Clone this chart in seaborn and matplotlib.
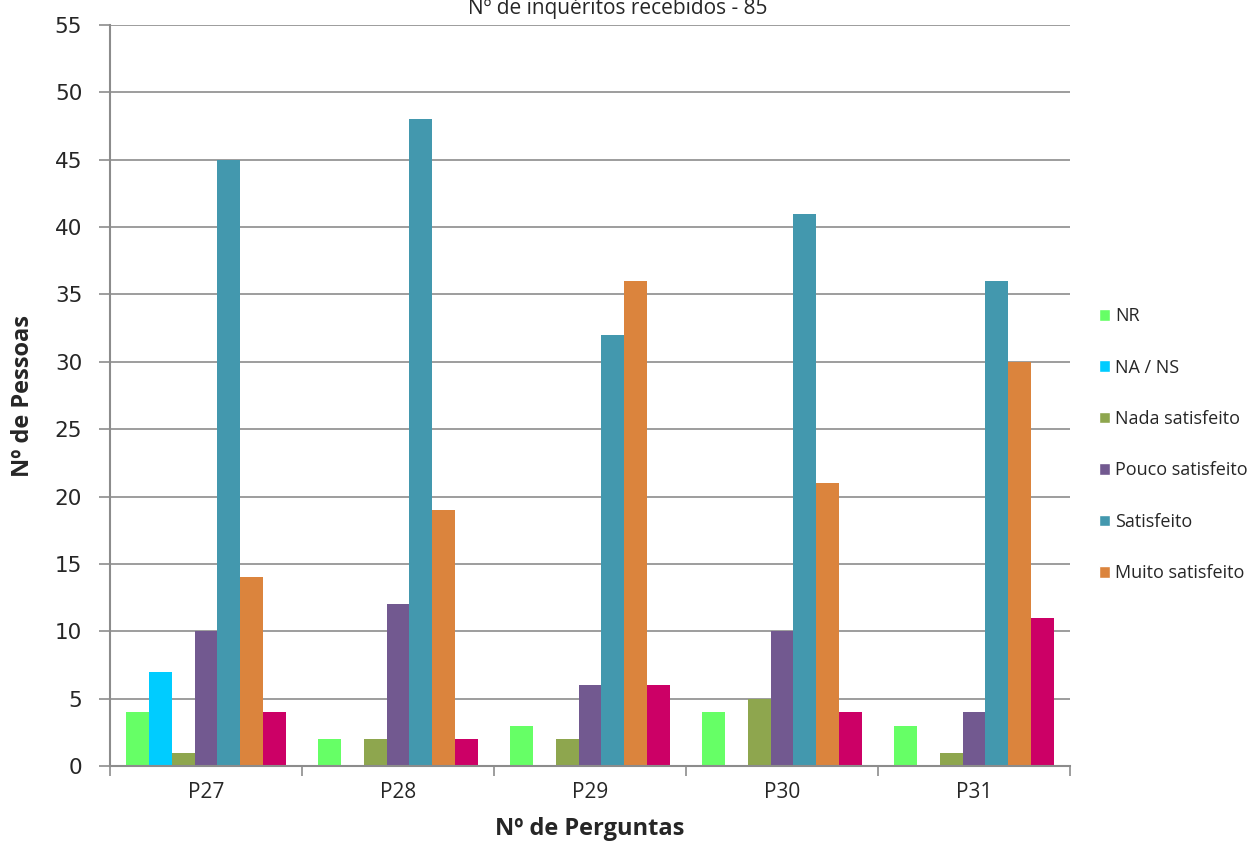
import pandas as pd
import seaborn as sns
import matplotlib.pyplot as plt
from matplotlib.patches import Patch

# chart data
perguntas = ["P27", "P28", "P29", "P30", "P31"]
series = ["NR", "NA / NS", "Nada satisfeito", "Pouco satisfeito",
          "Satisfeito", "Muito satisfeito", "Extra"]
nr = [4, 2, 3, 4, 3]
na_ns = [7, 0, 0, 0, 0]
nada = [1, 2, 2, 5, 1]
pouco = [10, 12, 6, 10, 4]
satisfeito = [45, 48, 32, 41, 36]
muito = [14, 19, 36, 21, 30]
extra = [4, 2, 6, 4, 11]
colors = ["#66FF66", "#00CCFF", "#8EA64E", "#725990", "#4398AE", "#DB843D", "#CC0066"]

values = [nr, na_ns, nada, pouco, satisfeito, muito, extra]
rows = []
for s, vals in zip(series, values):
    for p, v in zip(perguntas, vals):
        rows.append({"pergunta": p, "serie": s, "n": v})
df = pd.DataFrame(rows)

sns.set_style("white")
plt.rcParams["font.family"] = ["Open Sans", "DejaVu Sans"]

fig = plt.figure(figsize=(12.56, 8.47), dpi=100)
ax = fig.add_axes([0.0876, 0.0956, 0.7644, 0.8749])

sns.barplot(data=df, x="pergunta", y="n", hue="serie", hue_order=series,
            order=perguntas, palette=colors, width=0.83, saturation=1,
            linewidth=0, legend=False, ax=ax)

ax.set_ylim(0, 55)
ax.set_yticks(range(0, 56, 5))
ax.set_xlim(-0.5, 4.5)
ax.yaxis.grid(True, color="#8c8c8c", linewidth=1.2)
ax.set_axisbelow(True)
for side in ["top", "right"]:
    ax.spines[side].set_visible(False)
for side in ["left", "bottom"]:
    ax.spines[side].set_color("#8c8c8c")
    ax.spines[side].set_linewidth(1.5)

ax.tick_params(axis="y", left=True, length=8, color="#8c8c8c", width=1.2,
               labelsize=15.5, pad=12)
ax.tick_params(axis="x", which="major", bottom=False, labelsize=15, pad=8)
ax.set_xticks([i - 0.5 for i in range(6)], minor=True)
ax.tick_params(axis="x", which="minor", bottom=True, length=7, color="#8c8c8c", width=1.2)
for lab in ax.get_yticklabels():
    lab.set_family("DejaVu Sans")

ax.set_xlabel("Nº de Perguntas", fontsize=17, fontweight="bold", labelpad=10)
ax.set_ylabel("Nº de Pessoas", fontsize=17, fontweight="bold", labelpad=14)

fig.text(0.4915, 0.9905, "Nº de inquéritos recebidos - 85", ha="center", va="center",
         fontsize=15)

handles = [Patch(facecolor=c, label=s) for c, s in zip(colors[:6], series[:6])]
fig.legend(handles=handles, loc="center left", bbox_to_anchor=(0.862, 0.475),
           frameon=False, fontsize=13, handlelength=0.6, handleheight=0.6,
           handletextpad=0.3, labelspacing=1.85)

fig.savefig("out.png", dpi=100)
